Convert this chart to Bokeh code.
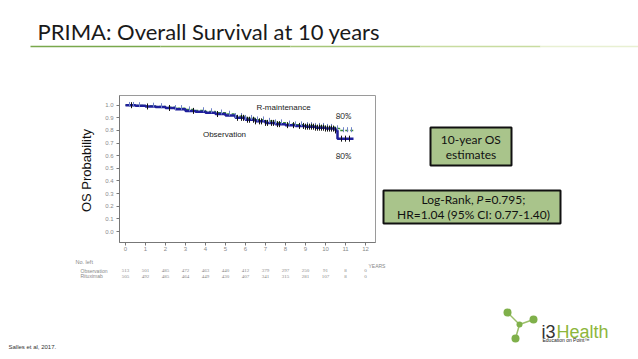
from bokeh.plotting import figure
from bokeh.models import (Label, LabelSet, ColumnDataSource, LinearAxis,
                          Range1d, FixedTicker, NumeralTickFormatter)
from bokeh.embed import file_html
from bokeh.resources import INLINE
import numpy as np

# ---------------- data ----------------
years = [0, 1, 2, 3, 4, 5, 6, 7, 8, 9, 10, 11, 12]
y_ticks = [0.0, 0.1, 0.2, 0.3, 0.4, 0.5, 0.6, 0.7, 0.8, 0.9, 1.0]

obs_time = [0, 0.5, 1, 1.5, 2, 2.5, 3, 3.5, 4, 4.5, 5, 5.5, 6, 6.5, 7, 7.5, 8, 8.5, 9, 9.5, 10, 10.5, 10.6, 11.4]
obs_surv = [1.0, 0.995, 0.99, 0.985, 0.978, 0.968, 0.955, 0.948, 0.94, 0.93, 0.918, 0.9, 0.885, 0.872, 0.86, 0.85, 0.842, 0.836, 0.83, 0.822, 0.815, 0.80, 0.735, 0.735]

rm_time = [0, 0.5, 1, 1.5, 2, 2.5, 3, 3.5, 4, 4.5, 5, 5.5, 6, 6.5, 7, 7.5, 8, 8.5, 9, 9.5, 10, 10.5, 10.7, 11.4]
rm_surv = [1.0, 0.998, 0.994, 0.99, 0.984, 0.975, 0.965, 0.958, 0.95, 0.94, 0.93, 0.912, 0.897, 0.885, 0.874, 0.862, 0.852, 0.846, 0.84, 0.834, 0.826, 0.815, 0.80, 0.80]

obs_censor = [0.3, 1.1, 2.2, 3.4, 4.6, 5.6, 5.8, 5.9, 6.1, 6.2, 6.4, 6.5, 6.7, 6.8, 7.0, 7.1, 7.3, 7.4, 7.6,
              7.7, 8.1, 8.4, 8.7, 8.9, 9.0, 9.1, 9.2, 9.3, 9.4, 9.5, 9.6, 9.7, 9.8, 9.9, 10.0, 10.1, 10.2,
              10.3, 10.4, 10.5, 10.8, 11.0, 11.2]
rm_censor = [0.2, 0.4, 0.7, 1.4, 1.8, 2.5, 2.8, 3.2, 3.9, 4.3, 4.8, 5.2, 5.5, 5.8, 6.0, 6.3, 6.6, 6.9, 7.2,
             7.5, 7.8, 8.2, 8.5, 8.8, 9.1, 9.3, 9.5, 9.7, 9.9, 10.1, 10.3, 10.6, 10.9, 11.1, 11.3]

risk_obs = [513, 501, 485, 472, 463, 440, 412, 379, 297, 250, 91, 8, 0]
risk_rit = [505, 492, 485, 464, 449, 430, 407, 341, 315, 281, 107, 8, 0]


def step_at(times, surv, t):
    idx = np.searchsorted(np.array(times), t, side="right") - 1
    return [surv[i] for i in idx]


# ---------------- page layout: page pixels -> data coordinates ----------------
W, H = 638, 359
X0, XS = 125.0, 20.0      # page x of year 0, pixels per year
Y0, YS = 231.0, 126.3     # page y of probability 0, pixels per unit


def dx(px):
    return (px - X0) / XS


def dy(py):
    return (Y0 - py) / YS


FL, FR, FT, FB = 119, 375, 95, 242   # KM frame box in page pixels

p = figure(width=W, height=H, x_range=Range1d(dx(0), dx(W)), y_range=Range1d(dy(H), dy(0)),
           output_backend="svg", toolbar_location=None, title=None,
           x_axis_location=None, y_axis_location=None, min_border=0)
p.background_fill_color = "white"
p.border_fill_color = "white"
p.outline_line_color = None
p.grid.visible = False

# KM axes placed at the frame edges
xax = LinearAxis(fixed_location=dy(FB), bounds=(dx(FL), dx(FR)), ticker=FixedTicker(ticks=years))
yax = LinearAxis(fixed_location=dx(FL), bounds=(dy(FB), dy(FT)), ticker=FixedTicker(ticks=y_ticks),
                 formatter=NumeralTickFormatter(format="0.0"))
for ax in (xax, yax):
    ax.axis_line_color = "#777777"
    ax.major_tick_line_color = "#777777"
    ax.major_tick_out = 3
    ax.major_tick_in = 0
    ax.minor_tick_line_color = None
    ax.major_label_text_font = "Liberation Sans"
    ax.major_label_text_font_size = "6px"
    ax.major_label_text_color = "#8a8a8a"
xax.major_label_standoff = 1
yax.major_label_standoff = 3
p.add_layout(xax, "below")
p.add_layout(yax, "left")

# frame outline
p.quad(left=[dx(FL)], right=[dx(FR)], top=[dy(FT)], bottom=[dy(FB)],
       fill_color=None, line_color="#9a9a9a", line_width=1)

p.add_layout(Label(x=dx(86), y=dy(170), text="OS Probability", angle=np.pi / 2,
                   text_font="Liberation Sans", text_font_size="13px", text_color="#111111",
                   text_align="center", text_baseline="middle"))

# curves
p.step(rm_time, rm_surv, mode="after", line_color="#3a8a3a", line_width=1.5, line_dash="3 2")
p.step(obs_time, obs_surv, mode="after", line_color="#1f1f9a", line_width=2.5)
p.scatter(rm_censor, [v + 0.006 for v in step_at(rm_time, rm_surv, rm_censor)], marker="dash",
          angle=np.pi / 2, size=5, line_color="#6f82c8", line_width=1)
p.scatter(obs_censor, step_at(obs_time, obs_surv, obs_censor), marker="dash", angle=np.pi / 2,
          size=6, line_color="#111111", line_width=1)


def label(px, py, text, size, font="Liberation Sans", align="left", color="#222222",
          baseline="middle", style="normal"):
    p.add_layout(Label(x=dx(px), y=dy(py), text=text, text_font=font, text_font_size=size,
                       text_align=align, text_baseline=baseline, text_color=color,
                       text_font_style=style))


# in-plot annotations
label(283, 107, "R-maintenance", "8px", align="center")
label(224, 134, "Observation", "8px", align="center")
label(343, 115, "80%", "8px", font="Lato", align="center")
label(343, 155, "80%", "8px", font="Lato", align="center")

# number at risk table
risk_src = ColumnDataSource(dict(x=years, obs=[str(v) for v in risk_obs], rit=[str(v) for v in risk_rit]))
for col, py in (("obs", 270), ("rit", 275.5)):
    p.add_layout(LabelSet(x="x", y=dy(py), text=col, source=risk_src,
                          text_font="Liberation Sans", text_font_size="5px", text_color="#888888",
                          text_align="center", text_baseline="middle"))
label(75, 261, "No. left", "5.5px", color="#888888")
label(80, 270, "Observation", "5px", color="#888888")
label(80, 275.5, "Rituximab", "5px", color="#888888")
label(368, 265, "YEARS", "5px", color="#888888")

# title and underline
label(37, 31, "PRIMA: Overall Survival at 10 years", "22px", font="Lato", color="#1a1a1a")
seg_x = [30, 160, 290, 420, 540, 638]
seg_c = ["#79a84c", "#8ab45c", "#a6c679", "#c8dca0", "#e8f0d2"]
p.segment(x0=[dx(v) for v in seg_x[:-1]], x1=[dx(v) for v in seg_x[1:]],
          y0=[dy(46)] * len(seg_c), y1=[dy(46)] * len(seg_c), line_color=seg_c, line_width=1.5)

# right boxes
boxes = [(430, 127, 511, 165), (383, 190, 560, 223)]
p.quad(left=[dx(b[0]) for b in boxes], right=[dx(b[2]) for b in boxes],
       top=[dy(b[1]) for b in boxes], bottom=[dy(b[3]) for b in boxes],
       fill_color="#a9c48b", line_color="#111111", line_width=2)
label(470.5, 139, "10-year OS", "12px", font="Lato", align="center", color="#111111")
label(470.5, 154, "estimates", "12px", font="Lato", align="center", color="#111111")
label(421, 199, "Log-Rank,", "12px", font="Lato", color="#111111")
label(476, 199, "P", "12px", font="Lato", color="#111111", style="italic")
label(484, 199, "=0.795;", "12px", font="Lato", color="#111111")
label(473, 214, "HR=1.04 (95% CI: 0.77-1.40)", "12px", font="Lato", align="center", color="#111111")

# footer
label(8, 346, "Salles et al, 2017.", "6px", color="#333333")

# logo
lx0 = [507, 519, 519]
ly0 = [312, 324, 324]
lx1 = [519, 533, 515]
ly1 = [324, 319, 338]
p.segment(x0=[dx(v) for v in lx0], y0=[dy(v) for v in ly0], x1=[dx(v) for v in lx1],
          y1=[dy(v) for v in ly1], line_color="#9cbf6a", line_width=1.5)
p.scatter(x=[dx(v) for v in (507, 533, 519, 515)], y=[dy(v) for v in (312, 319, 324, 338)],
          size=[8, 8, 6, 8], marker="circle", fill_color="#7fb04a", line_color=None)
label(541, 331, "i3", "18px", color="#333333", baseline="alphabetic")
label(556, 331, "Health", "18px", color="#8db63c", baseline="alphabetic")
label(542, 339, "Education on Point\u2122", "5px", color="#222222")

open("out.html", "w").write(file_html(p, INLINE))
